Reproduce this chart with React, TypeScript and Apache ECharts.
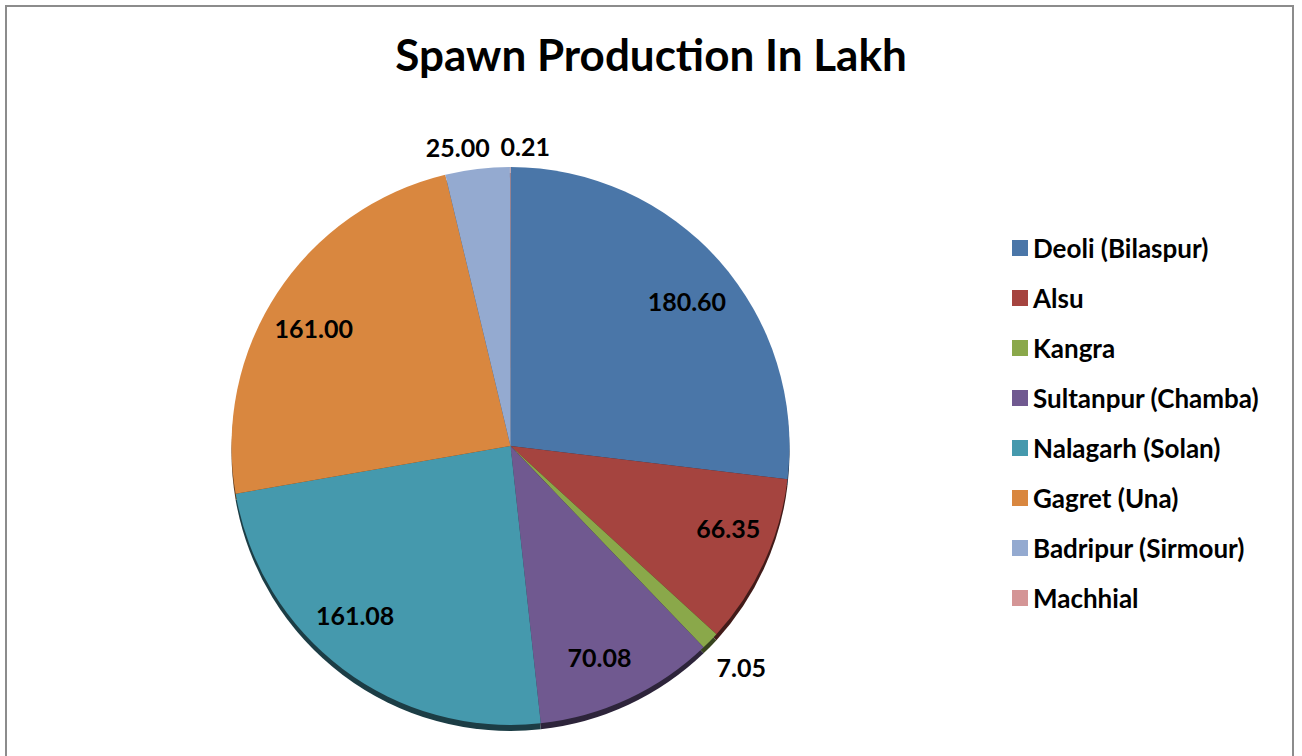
import React, { useEffect, useRef } from "react";
import * as echarts from "echarts";

const titleText = "Spawn Production In Lakh";
const categories = [
  "Deoli (Bilaspur)",
  "Alsu",
  "Kangra",
  "Sultanpur (Chamba)",
  "Nalagarh (Solan)",
  "Gagret (Una)",
  "Badripur (Sirmour)",
  "Machhial",
];
const values = [180.6, 66.35, 7.05, 70.08, 161.08, 161.0, 25.0, 0.21];
const colors = ["#4A76A8", "#A5443F", "#8AA84A", "#705990", "#4599AD", "#D9873F", "#94AAD0", "#D49596"];
// which labels sit outside the pie, and a small pixel nudge [dx, dy] for each label
const outsideLabels = [2, 6, 7];
const labelNudge: number[][] = [
  [3, 9],
  [7, -15],
  [15, 10],
  [-9, 1],
  [-16, -16],
  [-3, 9],
  [-17, 0],
  [15, 2],
];

const FONT = "Lato";
const CX = 510.5;
const CY = 446;
const R = 279;

function darken(hex: string, k: number) {
  const n = parseInt(hex.slice(1), 16);
  const r = Math.round(((n >> 16) & 255) * k);
  const g = Math.round(((n >> 8) & 255) * k);
  const b = Math.round((n & 255) * k);
  return `rgb(${r},${g},${b})`;
}

export default function App() {
  const ref = useRef<HTMLDivElement>(null);
  useEffect(() => {
    if (!ref.current) return;
    const chart = echarts.init(ref.current, undefined, { renderer: "svg" });
    const labelStyle = { color: "#000", fontFamily: FONT, fontWeight: "bold" as const, fontSize: 25 };
    const mainData = categories.map((n, i) => ({ name: n, value: values[i], itemStyle: { color: colors[i] } }));
    const shadowData = categories.map((n, i) => ({
      name: n,
      value: values[i],
      itemStyle: { color: darken(colors[i], 0.4) },
    }));
    const innerLabelData = categories.map((n, i) => ({
      name: n,
      value: values[i],
      label: { show: !outsideLabels.includes(i) },
    }));
    const outerLabelData = categories.map((n, i) => ({
      name: n,
      value: values[i],
      label: { show: outsideLabels.includes(i) },
    }));
    const nudge = (p: any) => {
      const d = labelNudge[p.dataIndex] || [0, 0];
      return { dx: d[0], dy: d[1] };
    };
    const common = {
      type: "pie" as const,
      center: [CX, CY],
      startAngle: 90,
      clockwise: true,
      avoidLabelOverlap: false,
      labelLine: { show: false },
      emphasis: { disabled: true },
      silent: true,
      animation: false,
    };
    chart.setOption({
      animation: false,
      title: {
        text: titleText,
        left: "center",
        top: 27,
        textStyle: { fontFamily: FONT, fontWeight: "bold", fontSize: 44, color: "#000" },
      },
      legend: {
        orient: "vertical",
        left: 1007,
        top: 230,
        icon: "rect",
        itemWidth: 16,
        itemHeight: 16,
        itemGap: 24,
        data: categories,
        selectedMode: false,
        textStyle: { fontFamily: FONT, fontWeight: "bold", fontSize: 26, color: "#000" },
      },
      graphic: [
        {
          type: "rect",
          shape: { x: 6, y: 6, width: 1287, height: 770 },
          style: { fill: "none", stroke: "#8C8C8C", lineWidth: 2 },
          silent: true,
        },
      ],
      series: [
        {
          ...common,
          name: "main",
          radius: [0, R],
          z: 3,
          label: { show: false },
          itemStyle: { borderWidth: 0 },
          data: mainData,
        },
        {
          ...common,
          name: "rim",
          center: [CX, CY + 6],
          radius: [0, R],
          z: 1,
          label: { show: false },
          itemStyle: { borderWidth: 0 },
          data: shadowData,
        },
        {
          ...common,
          name: "innerLabels",
          radius: [R * 0.64, R],
          z: 4,
          itemStyle: { color: "rgba(0,0,0,0)", borderWidth: 0 },
          label: { position: "inside", formatter: (p: any) => p.value.toFixed(2), ...labelStyle },
          labelLayout: nudge,
          data: innerLabelData,
        },
        {
          ...common,
          name: "outerLabels",
          radius: [R, R * 1.14],
          z: 4,
          itemStyle: { color: "rgba(0,0,0,0)", borderWidth: 0 },
          label: { position: "inside", formatter: (p: any) => p.value.toFixed(2), ...labelStyle },
          labelLayout: nudge,
          data: outerLabelData,
        },
      ],
    });
    return () => chart.dispose();
  }, []);
  return <div ref={ref} style={{ position: "fixed", left: 0, top: 0, width: 1302, height: 756, background: "#fff" }} />;
}
